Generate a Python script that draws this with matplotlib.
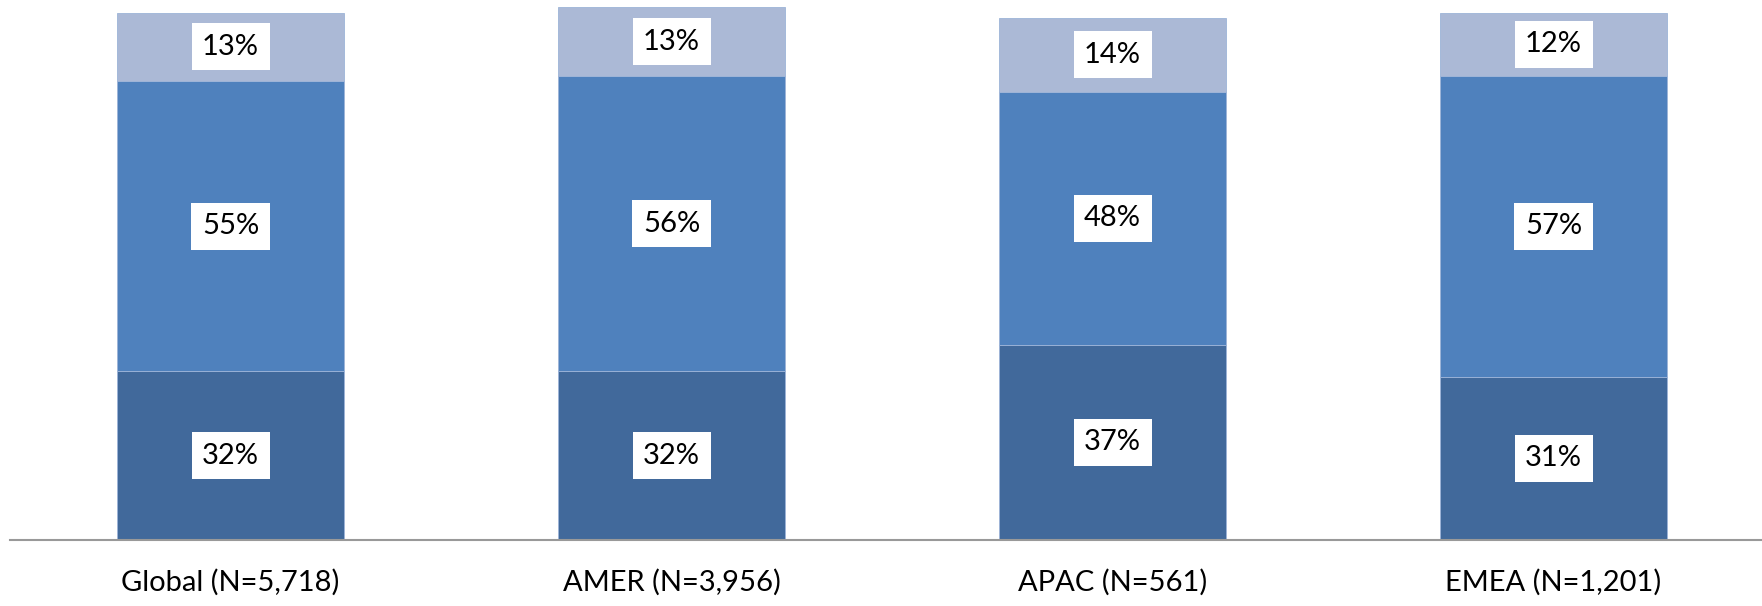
import matplotlib
matplotlib.use("Agg")
from matplotlib import pyplot as plt
import numpy as np

plt.rcParams['font.family'] = ['Lato', 'DejaVu Sans']

regions = ['Global (N=5,718)', 'AMER (N=3,956)', 'APAC (N=561)', 'EMEA (N=1,201)']
bottom_pct = [32, 32, 37, 31]
middle_pct = [55, 56, 48, 57]
top_pct = [13, 13, 14, 12]

colors = ['#41699B', '#4F81BD', '#ABB9D6']

fig = plt.figure(figsize=(17.62, 6.06), dpi=100)
ax = fig.add_axes([10 / 1762, 66 / 606, 1 - 10 / 1762, 1 - 66 / 606])

x = np.arange(len(regions))
base = np.zeros(len(regions))
for vals, col in zip([bottom_pct, middle_pct, top_pct], colors):
    vals = np.array(vals, dtype=float)
    ax.bar(x, vals, bottom=base, width=0.515, color=col,
           edgecolor='#9DB4D8', linewidth=0.6)
    for xi, b, v in zip(x, base, vals):
        ax.text(xi, b + v / 2, f'{int(v)}%', ha='center', va='center',
                fontsize=21, color='black',
                bbox=dict(boxstyle='square,pad=0.36', fc='white', ec='none'))
    base += vals

ax.set_xlim(-0.5, 3.5 - 12 / 441)
ax.set_ylim(0, 100 * 540 / 527.3)
ax.set_xticks(x)
ax.set_xticklabels(regions, fontsize=21)
ax.tick_params(axis='x', length=0, pad=21)
ax.set_yticks([])
for side in ['top', 'right', 'left']:
    ax.spines[side].set_visible(False)
ax.spines['bottom'].set_color('#999999')
ax.spines['bottom'].set_linewidth(1.5)

fig.savefig('out.png', dpi=100)
